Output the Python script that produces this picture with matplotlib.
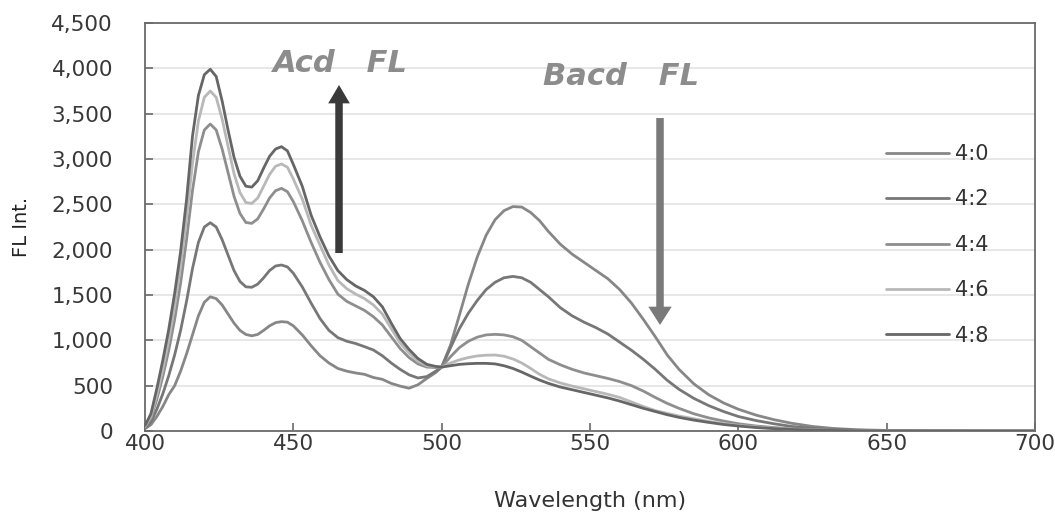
import matplotlib
matplotlib.use("Agg")
import matplotlib.pyplot as plt
from matplotlib.ticker import FuncFormatter

# ---------------- data ----------------
wavelength = [400, 402, 404, 406, 408, 410, 412, 414, 416, 418, 420, 422, 424, 426, 428, 430,
              432, 434, 436, 438, 440, 442, 444, 446, 448, 450,
              453, 456, 459, 462, 465, 468, 471, 474, 477, 480, 483, 486, 489, 492, 495, 498,
              500,
              503, 506, 509, 512, 515, 518, 521, 524, 527, 530, 533, 536,
              540, 544, 548, 552, 556, 560, 564, 568, 572, 576, 580,
              585, 590, 595, 600,
              606, 612, 618,
              625, 632,
              640, 650, 660, 675, 690, 700]

fl_4_0 = [25, 70, 160, 270, 400, 500, 660, 850, 1060, 1270, 1420, 1480, 1460, 1390, 1290, 1190,
          1110, 1065, 1050, 1065, 1110, 1160, 1195, 1206, 1200, 1160,
          1060, 940, 830, 750, 690, 660, 640, 625, 590, 570, 525, 495, 472, 510, 580, 645,
          705,
          950, 1280, 1620, 1920, 2160, 2330, 2430, 2475, 2470, 2410, 2320, 2200,
          2060, 1950, 1860, 1770, 1680, 1560, 1410, 1230, 1040, 840, 680,
          520, 400, 310, 240,
          175, 125, 85,
          50, 28,
          14, 6, 3, 1, 0, 0]

fl_4_2 = [35, 100, 240, 410, 610, 840, 1110, 1430, 1790, 2080, 2250, 2297, 2250, 2110, 1940, 1770,
          1650, 1590, 1585, 1620, 1690, 1770, 1820, 1831, 1810, 1740,
          1590, 1410, 1240, 1110, 1030, 990, 965, 930, 893, 830, 750, 680, 620, 585, 600, 660,
          705,
          920, 1130, 1300, 1440, 1560, 1640, 1690, 1705, 1690, 1640, 1560, 1480,
          1360, 1270, 1200, 1140, 1070, 980, 890, 790, 680, 560, 460,
          360, 280, 215, 160,
          115, 80, 50,
          30, 16,
          8, 3, 1, 0, 0, 0]

fl_4_4 = [45, 140, 350, 600, 890, 1230, 1630, 2110, 2650, 3080, 3320, 3386, 3320, 3110, 2850, 2590,
          2400, 2300, 2290, 2340, 2450, 2570, 2650, 2676, 2640, 2530,
          2320, 2080, 1860, 1670, 1510, 1430, 1380, 1330, 1260, 1170, 1040, 910, 810, 740, 705, 700,
          705,
          820, 920, 990, 1035, 1060, 1066, 1060, 1040, 1000, 930, 860, 790,
          730, 680, 640, 610, 580, 545, 500, 440, 370, 305, 250,
          190, 145, 110, 80,
          55, 38, 24,
          14, 8,
          4, 2, 1, 0, 0, 0]

fl_4_6 = [50, 160, 400, 680, 1000, 1380, 1820, 2350, 2950, 3420, 3680, 3750, 3680, 3440, 3140, 2840,
          2630, 2520, 2510, 2570, 2700, 2830, 2920, 2945, 2910, 2780,
          2560, 2270, 2050, 1830, 1660, 1570, 1510, 1460, 1390, 1290, 1130, 970, 860, 770, 720, 710,
          705,
          750, 785, 810, 828, 836, 838, 825, 795, 750, 690, 625, 575,
          530, 495, 465, 435, 405, 370, 320, 270, 225, 195, 165,
          135, 105, 82, 62,
          45, 30, 20,
          12, 7,
          4, 1, 0, 0, 0, 0]

fl_4_8 = [60, 190, 470, 780, 1120, 1520, 1980, 2550, 3250, 3700, 3930, 3990, 3910, 3640, 3320, 3020,
          2810, 2700, 2690, 2760, 2900, 3030, 3110, 3136, 3090, 2940,
          2700, 2380, 2140, 1930, 1770, 1670, 1600, 1550, 1480, 1370, 1190, 1020, 900, 800, 735, 712,
          705,
          720, 735, 742, 746, 746, 740, 720, 690, 650, 605, 562, 525,
          485, 455, 425, 395, 365, 330, 290, 250, 215, 180, 150,
          120, 95, 72, 55,
          38, 26, 17,
          10, 6,
          3, 1, 0, 0, 0, 0]

series_labels = ["4:0", "4:2", "4:4", "4:6", "4:8"]
series_values = [fl_4_0, fl_4_2, fl_4_4, fl_4_6, fl_4_8]
series_colors = ["#878787", "#777777", "#8e8e8e", "#b8b8b8", "#666666"]

x_ticks = [400, 450, 500, 550, 600, 650, 700]
y_ticks = [0, 500, 1000, 1500, 2000, 2500, 3000, 3500, 4000, 4500]

# ---------------- figure ----------------
W, H = 1055, 513
fig = plt.figure(figsize=(W / 100, H / 100), dpi=100)
ax = fig.add_axes([145 / W, 1 - 431 / H, (1035 - 145) / W, (431 - 23) / H])

for lab, vals, col in zip(series_labels, series_values, series_colors):
    ax.plot(wavelength, vals, color=col, lw=2.0, label=lab, solid_capstyle="round", zorder=3)

ax.set_xlim(400, 700)
ax.set_ylim(0, 4500)
ax.set_xticks(x_ticks)
ax.set_yticks(y_ticks)
ax.yaxis.set_major_formatter(FuncFormatter(lambda v, p: f"{int(v):,}"))
ax.grid(axis="y", color="#e3e3e3", lw=1.2, zorder=0)
ax.set_axisbelow(True)

for s in ax.spines.values():
    s.set_color("#6a6a6a")
    s.set_linewidth(1.3)

ax.tick_params(axis="both", direction="in", length=6, width=1.2, color="#6a6a6a",
               labelsize=15.5, labelcolor="#383838")
ax.tick_params(axis="x", pad=2)
ax.tick_params(axis="y", pad=23)

ax.set_xlabel("Wavelength (nm)", fontsize=16, color="#333333", labelpad=27)
ax.set_ylabel("FL Int.", fontsize=14, color="#222222", labelpad=15)

# annotations
ax.text(443, 3959, "Acd   FL", fontsize=22, fontweight="bold", fontstyle="italic",
        color="#8c8c8c", ha="left", va="baseline", zorder=4)
ax.text(534, 3816, "Bacd   FL", fontsize=22, fontweight="bold", fontstyle="italic",
        color="#8c8c8c", ha="left", va="baseline", zorder=4)

ax.annotate("", xy=(465.4, 3816), xytext=(465.4, 1963),
            arrowprops=dict(arrowstyle="simple,head_length=1.1,head_width=1.3,tail_width=0.45",
                            mutation_scale=12, color="#3a3a3a", shrinkA=0, shrinkB=0, lw=0),
            zorder=5)
ax.annotate("", xy=(573.6, 1169), xytext=(573.6, 3452),
            arrowprops=dict(arrowstyle="simple,head_length=1.1,head_width=1.4,tail_width=0.45",
                            mutation_scale=12, color="#7a7a7a", shrinkA=0, shrinkB=0, lw=0),
            zorder=5)

leg = ax.legend(loc="upper left", bbox_to_anchor=(886 / W, 1 - 144 / H),
                bbox_transform=fig.transFigure, frameon=False, fontsize=15,
                handlelength=3.0, handletextpad=0.3, labelspacing=1.22,
                borderpad=0, borderaxespad=0)
for t in leg.get_texts():
    t.set_color("#333333")

fig.savefig("out.png", dpi=100)
